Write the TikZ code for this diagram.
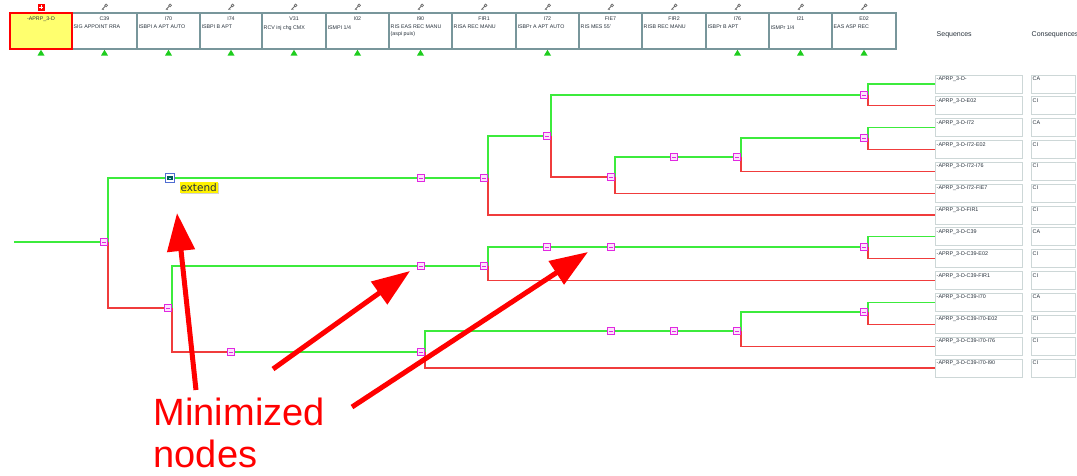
\documentclass[tikz,border=0pt]{standalone}
\usepackage{fontspec}
\setmainfont{Liberation Sans}
\newfontfamily\dejavu{DejaVu Sans}
\usetikzlibrary{arrows.meta,shadows}
\definecolor{gline}{RGB}{60,235,60}
\definecolor{rline}{RGB}{240,60,60}
\definecolor{mag}{RGB}{225,40,225}
\definecolor{magfill}{RGB}{252,228,252}
\definecolor{hbord}{RGB}{120,150,155}
\definecolor{sbord}{RGB}{205,215,215}
\definecolor{ylw}{RGB}{255,255,110}
\definecolor{trig}{RGB}{30,205,30}
\definecolor{keyg}{RGB}{110,110,110}
\definecolor{txtg}{RGB}{40,50,60}
\pgfdeclarelayer{bg}
\pgfsetlayers{bg,main}
\newcommand\hcell[6][]{%
  \node[hdr,#1,minimum width={#4-#3}] (#2) at ({(#3+#4)/2},31) {};
  \node[htitle] (#2t) at ({(#3+#4)/2},19) {#5};
  \node[hdesc] (#2d) at (#3+1,24.5) {#6};
}
\newcommand\keyicon[2]{%
  \node[keyic] (#1) at (#2,7) {};
}
\newcommand\trimark[1]{%
  \fill[trig] (#1-3.5,55.5) -- (#1+3.5,55.5) -- (#1,49.8) -- cycle;
}
\begin{document}
\begin{tikzpicture}[x=1pt,y=-1pt,
  hdr/.style={draw=hbord,line width=1.3pt,minimum height=36pt,inner sep=0pt,fill=white},
  htitle/.style={font=\fontsize{5.3}{6}\selectfont,text=txtg,inner sep=0pt},
  hdesc/.style={font=\fontsize{5.3}{6.4}\selectfont,text=txtg,inner sep=0.5pt,anchor=north west,align=left},
  keyic/.style={minimum size=7pt,inner sep=0pt,path picture={
     \draw[keyg,line width=0.9pt] ([shift={(-2.6,2.6)}]path picture bounding box.center) -- ([shift={(0.8,-0.8)}]path picture bounding box.center);
     \draw[keyg,line width=0.7pt,fill=white] ([shift={(1.6,-1.6)}]path picture bounding box.center) circle (1.4pt);
     \draw[keyg,line width=0.6pt] ([shift={(-1.8,1.8)}]path picture bounding box.center) -- ([shift={(-0.6,2.9)}]path picture bounding box.center);}},
  seqbox/.style={draw=sbord,line width=0.8pt,minimum width=87pt,minimum height=18pt,inner sep=0pt,anchor=north west},
  conbox/.style={draw=sbord,line width=0.8pt,minimum width=44pt,minimum height=18pt,inner sep=0pt,anchor=north west},
  seqtxt/.style={font=\fontsize{5.4}{6}\selectfont,text=txtg,inner sep=0pt,anchor=north west},
  colhead/.style={font=\fontsize{7}{8}\selectfont,text=txtg,inner sep=0pt,anchor=west},
  mn/.style={draw=mag,fill=magfill,minimum size=7pt,inner sep=0pt,line width=0.8pt,
     path picture={\draw[mag,line width=0.5pt] ([xshift=-2pt]path picture bounding box.center) -- ([xshift=2pt]path picture bounding box.center);}},
  gl/.style={draw=gline,line width=1.2pt},
  rl/.style={draw=rline,line width=1.2pt},
  bigarrow/.style={draw=red,line width=5pt,-{Triangle[length=38pt,width=27pt]}},
  note/.style={font=\fontsize{38}{44}\selectfont,text=red,inner sep=0pt,anchor=base west}
]
\useasboundingbox (0,0) rectangle (1077,475);

% ---------- header ----------
\hcell{h2}{72}{137}{C39}{SIG APPOINT RRA}
\hcell{h3}{137}{200}{I70}{ISBPI A APT AUTO}
\hcell{h4}{200}{262}{I74}{ISBPI B APT}
\hcell{h5}{262}{326}{V31}{RCV inj chg CMX}
\hcell{h6}{326}{389}{I02}{ISMPI 1/4}
\hcell{h7}{389}{452}{I90}{RIS EAS REC MANU\\(aspi puis)}
\hcell{h8}{452}{516}{FIR1}{RISA REC MANU}
\hcell{h9}{516}{579}{I72}{ISBPr A APT AUTO}
\hcell{h10}{579}{642}{FIE7}{RIS MES 55'}
\hcell{h11}{642}{706}{FIR2}{RISB REC MANU}
\hcell{h12}{706}{769}{I76}{ISBPr B APT}
\hcell{h13}{769}{832}{I21}{ISMPr 1/4}
\hcell{h14}{832}{896}{E02}{EAS ASP REC}
\hcell[fill=ylw,draw=red,line width=2.5pt]{h1}{10}{72}{-APRP\_3-D}{}

\node[draw=red,fill=red,minimum size=6pt,inner sep=0pt,
  path picture={\draw[white,line width=0.5pt] ([xshift=-1.8pt]path picture bounding box.center) -- ([xshift=1.8pt]path picture bounding box.center);
  \draw[white,line width=0.5pt] ([yshift=-1.8pt]path picture bounding box.center) -- ([yshift=1.8pt]path picture bounding box.center);}] (rootic) at (41,7) {};
\keyicon{k2}{104.5}
\keyicon{k3}{168.5}
\keyicon{k4}{231}
\keyicon{k5}{294}
\keyicon{k6}{357.5}
\keyicon{k7}{420.5}
\keyicon{k8}{484}
\keyicon{k9}{547.5}
\keyicon{k10}{610.5}
\keyicon{k11}{674}
\keyicon{k12}{737.5}
\keyicon{k13}{800.5}
\keyicon{k14}{864}

\trimark{41}
\trimark{104.5}
\trimark{168.5}
\trimark{231}
\trimark{294}
\trimark{357.5}
\trimark{420.5}
\trimark{547.5}
\trimark{737.5}
\trimark{800.5}
\trimark{864}

\node[colhead] (seqh) at (936.5,35) {Sequences};
\node[colhead] (conh) at (1031.5,35) {Consequences};

% ---------- sequences ----------
\foreach \s/\c [count=\k] in {
  {-APRP\_3-D-}/CA,
  {-APRP\_3-D-E02}/CI,
  {-APRP\_3-D-I72}/CA,
  {-APRP\_3-D-I72-E02}/CI,
  {-APRP\_3-D-I72-I76}/CI,
  {-APRP\_3-D-I72-FIE7}/CI,
  {-APRP\_3-D-FIR1}/CI,
  {-APRP\_3-D-C39}/CA,
  {-APRP\_3-D-C39-E02}/CI,
  {-APRP\_3-D-C39-FIR1}/CI,
  {-APRP\_3-D-C39-I70}/CA,
  {-APRP\_3-D-C39-I70-E02}/CI,
  {-APRP\_3-D-C39-I70-I76}/CI,
  {-APRP\_3-D-C39-I70-I90}/CI}{
  \node[seqbox] (s\k) at (935,{74.5+21.85*(\k-1)}) {};
  \node[seqtxt] (st\k) at ([shift={(1.5,2)}]s\k.north west) {\s};
  \node[conbox] (c\k) at (1031,{74.5+21.85*(\k-1)}) {};
  \node[seqtxt] (ct\k) at ([shift={(1.5,2)}]c\k.north west) {\c};
}

% ---------- tree nodes ----------
\coordinate (root) at (14,242);
\node[mn] (n1) at (104,242) {};
\node[draw={rgb,255:red,80;green,110;blue,210},fill=white,line width=0.8pt,minimum size=9pt,inner sep=0pt,
  path picture={\fill[teal!70!black] ([shift={(-2.6,-2)}]path picture bounding box.center) rectangle ([shift={(2.6,2)}]path picture bounding box.center);
  \fill[cyan!40] ([shift={(-1.4,-0.5)}]path picture bounding box.center) rectangle ([shift={(1.4,0.5)}]path picture bounding box.center);}] (ext) at (170,178) {};
\node[fill=yellow,text=txtg,font=\dejavu\fontsize{10.5}{12}\selectfont,inner xsep=0.8pt,inner ysep=1.6pt,anchor=north west,
  drop shadow={shadow xshift=1pt,shadow yshift=-1pt,opacity=0.35}] (extl) at (179.5,181.5) {extend};
\node[mn] (n2) at (421,178) {};
\node[mn] (n3) at (484,178) {};
\node[mn] (n4) at (547,136) {};
\node[mn] (n5) at (864,95) {};
\node[mn] (n6) at (611,177) {};
\node[mn] (n7) at (674,157) {};
\node[mn] (n8) at (737,157) {};
\node[mn] (n9) at (864,138) {};
\node[mn] (n10) at (168,308) {};
\node[mn] (n11) at (421,266) {};
\node[mn] (n12) at (231,352) {};
\node[mn] (n13) at (484,266) {};
\node[mn] (n14) at (547,247) {};
\node[mn] (n15) at (611,247) {};
\node[mn] (n16) at (864,247) {};
\node[mn] (n17) at (421,352) {};
\node[mn] (n18) at (611,331) {};
\node[mn] (n19) at (674,331) {};
\node[mn] (n20) at (737,331) {};
\node[mn] (n21) at (864,312) {};

% ---------- connectors ----------
\begin{pgfonlayer}{bg}
\draw[gl] (root) -- (n1.west);
\draw[gl] (n1.east) |- (ext.west);
\draw[gl] (ext.east) -- (n2.west);
\draw[gl] (n2.east) -- (n3.west);
\draw[gl] (n3.east) |- (n4.west);
\draw[rl] (n3.east) |- (s7.west);
\draw[gl] (n4.east) |- (n5.west);
\draw[rl] (n4.east) |- (n6.west);
\draw[gl] (n5.east) |- (s1.west);
\draw[rl] (n5.east) |- (s2.west);
\draw[gl] (n6.east) |- (n7.west);
\draw[rl] (n6.east) |- (s6.west);
\draw[gl] (n7.east) -- (n8.west);
\draw[gl] (n8.east) |- (n9.west);
\draw[rl] (n8.east) |- (s5.west);
\draw[gl] (n9.east) |- (s3.west);
\draw[rl] (n9.east) |- (s4.west);
\draw[rl] (n1.east) |- (n10.west);
\draw[gl] (n10.east) |- (n11.west);
\draw[rl] (n10.east) |- (n12.west);
\draw[gl] (n11.east) -- (n13.west);
\draw[gl] (n13.east) |- (n14.west);
\draw[rl] (n13.east) |- (s10.west);
\draw[gl] (n14.east) -- (n15.west);
\draw[gl] (n15.east) -- (n16.west);
\draw[gl] (n16.east) |- (s8.west);
\draw[rl] (n16.east) |- (s9.west);
\draw[gl] (n12.east) -- (n17.west);
\draw[gl] (n17.east) |- (n18.west);
\draw[rl] (n17.east) |- (s14.west);
\draw[gl] (n18.east) -- (n19.west);
\draw[gl] (n19.east) -- (n20.west);
\draw[gl] (n20.east) |- (n21.west);
\draw[rl] (n20.east) |- (s13.west);
\draw[gl] (n21.east) |- (s11.west);
\draw[rl] (n21.east) |- (s12.west);
\end{pgfonlayer}

% ---------- annotation ----------
\coordinate (a1s) at (196,390);
\coordinate (a1e) at (177,213);
\coordinate (a2s) at (273,369);
\coordinate (a2e) at (410,271);
\coordinate (a3s) at (352,407);
\coordinate (a3e) at (588,252);
\draw[bigarrow] (a1s) -- (a1e);
\draw[bigarrow] (a2s) -- (a2e);
\draw[bigarrow] (a3s) -- (a3e);
\node[note] (m1) at (153.5,425) {Minimized};
\node[note] (m2) at (153.5,467.5) {nodes};
\end{tikzpicture}
\end{document}
